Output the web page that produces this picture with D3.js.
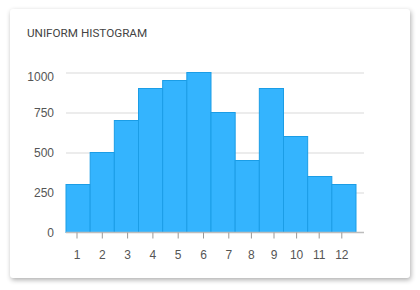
<!DOCTYPE html>
<html>
<head>
<meta charset="utf-8">
<script src="https://cdn.jsdelivr.net/npm/d3@7"></script>
<style>
  html, body { margin: 0; padding: 0; background: #fff; }
  body { width: 420px; height: 290px; position: relative; overflow: hidden; }
  .card {
    position: absolute; left: 10px; top: 9px; width: 400px; height: 269px;
    background: #fff; border-radius: 3px;
    box-shadow: 1px 2px 5px rgba(0,0,0,0.32);
  }
  svg { position: absolute; left: 0; top: 0; font-family: Roboto, "Noto Sans", sans-serif; }
  .grid line { stroke: #ececec; stroke-width: 2; }
  .grid .domain { display: none; }
  .axis text { fill: #555; font-size: 12px; }
  .axis .domain { display: none; }
  .bar { fill: #34b4fe; stroke: #1b9de6; stroke-width: 1; }
</style>
</head>
<body>
<div class="card"></div>
<svg id="chart"></svg>
<script>
var title = "UNIFORM HISTOGRAM";
var bins = [1, 2, 3, 4, 5, 6, 7, 8, 9, 10, 11, 12];
var counts = [300, 500, 700, 900, 950, 1000, 750, 450, 900, 600, 350, 300];
var yTickValues = [0, 250, 500, 750, 1000];

var width = 420,
    height = 290,
    margin = {top: 72.5, right: 56, bottom: 57.5, left: 66},
    innerwidth = width - margin.left - margin.right,
    innerheight = height - margin.top - margin.bottom,
    barsWidth = 290;

var svg = d3.select("#chart")
    .attr("width", width)
    .attr("height", height);

svg.append("text")
    .attr("x", 27)
    .attr("y", 37.3)
    .attr("fill", "#444")
    .style("font-size", "11.7px")
    .text(title);

var wrapper = svg.append("g")
    .attr("transform", "translate(" + margin.left + "," + margin.top + ")");

var yScale = d3.scaleLinear()
    .domain([0, 1000])
    .range([innerheight, 0]);

// bars sit on a plain band of equal bins
var xBar = d3.scaleBand()
    .domain(bins)
    .range([0, barsWidth])
    .padding(0);

// tick labels in the reference are not evenly spaced: piecewise scale
var xTick = d3.scaleLinear()
    .domain([1, 7, 12])
    .range([10.5, 162.3, 275.3]);

wrapper.append("g")
    .attr("class", "grid")
    .call(d3.axisLeft(yScale).tickValues(yTickValues.slice(1)).tickSize(-innerwidth).tickFormat(""));

wrapper.append("g")
    .attr("class", "y axis")
    .call(d3.axisLeft(yScale).tickValues(yTickValues).tickFormat(d3.format("d")).tickSize(0).tickPadding(12))
    .selectAll("text")
    .attr("dy", function(d) { return d === 1000 ? "0.65em" : "0.32em"; });

wrapper.selectAll(".bar")
    .data(counts)
    .enter()
    .append("rect")
    .attr("class", "bar")
    .attr("x", function(d, i) { return xBar(bins[i]); })
    .attr("y", function(d) { return yScale(d); })
    .attr("width", xBar.bandwidth())
    .attr("height", function(d) { return innerheight - yScale(d); });

wrapper.append("line")
    .attr("x1", 0)
    .attr("x2", innerwidth)
    .attr("y1", innerheight)
    .attr("y2", innerheight)
    .attr("stroke", "#bdbdbd")
    .attr("stroke-width", 1.5);

var xAxis = wrapper.append("g")
    .attr("class", "x axis")
    .attr("transform", "translate(0," + innerheight + ")")
    .call(d3.axisBottom(xTick).tickValues(bins).tickFormat(d3.format("d")).tickSize(6).tickPadding(12));

xAxis.selectAll("line").attr("stroke", "#999");
</script>
</body>
</html>
